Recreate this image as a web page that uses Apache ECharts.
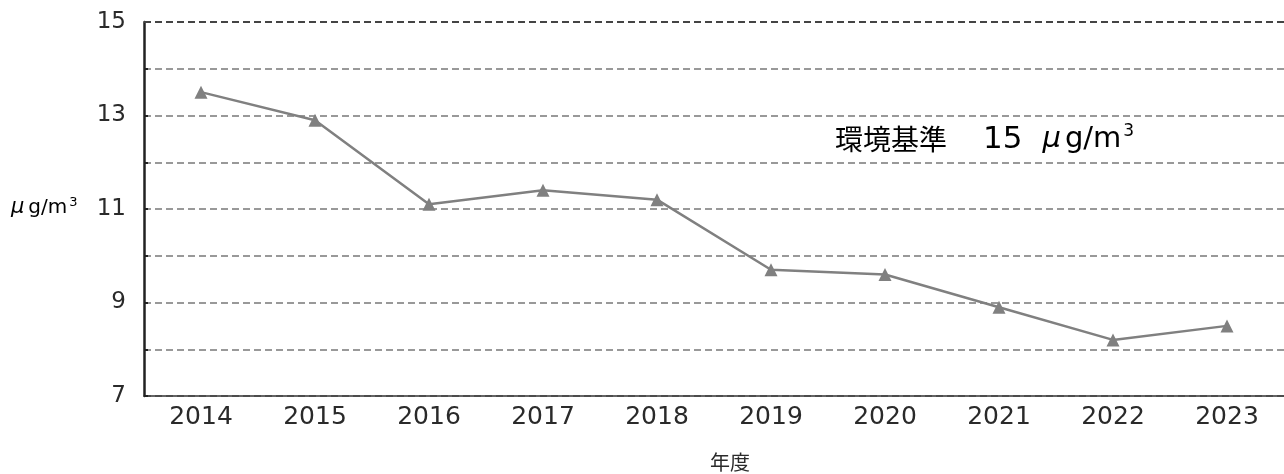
<!DOCTYPE html>
<html>
<head>
<meta charset="utf-8">
<script src="https://cdn.jsdelivr.net/npm/echarts@6/dist/echarts.min.js"></script>
<style>
    html, body { margin: 0; padding: 0; background: #ffffff; }
    #main { width: 1284px; height: 474px; }
</style>
</head>
<body>
<div id="main"></div>
<script>
var years = ['2014', '2015', '2016', '2017', '2018', '2019', '2020', '2021', '2022', '2023'];
var values = [13.5, 12.9, 11.1, 11.4, 11.2, 9.7, 9.6, 8.9, 8.2, 8.5];
var standard = 15;

var numFont = '"DejaVu Sans", sans-serif';
var jpFont = '"Noto Sans CJK JP", sans-serif';
var textColor = '#2a2a2a';

var chart = echarts.init(document.getElementById('main'));
var option = {
    backgroundColor: '#ffffff',
    animation: false,
    grid: {
        left: 144,
        top: 22,
        width: 1150,
        height: 374
    },
    xAxis: {
        type: 'category',
        data: years,
        axisLine: { lineStyle: { color: '#333', width: 1.5 } },
        axisTick: { inside: true, length: 5, lineStyle: { color: '#555' } },
        axisLabel: { fontFamily: numFont, fontSize: 25, color: textColor, margin: 9 }
    },
    yAxis: {
        type: 'value',
        min: 7,
        max: 15,
        interval: 1,
        axisLine: { show: true, lineStyle: { color: '#222', width: 2.5 } },
        axisTick: { show: true, inside: true, length: 4, lineStyle: { color: '#222', width: 2 } },
        axisLabel: {
            fontFamily: numFont,
            fontSize: 23,
            color: textColor,
            margin: 18,
            formatter: function (v) { return v % 2 === 1 ? String(v) : ''; }
        },
        splitLine: { lineStyle: { color: '#999', width: 2, type: [7, 4] } }
    },
    graphic: [{
        type: 'text',
        left: 11,
        top: 196,
        style: {
            text: '{m|μ}{u|g/m}{s|3}',
            rich: {
                m: { fontFamily: numFont, fontSize: 21, fontStyle: 'italic', color: textColor, padding: [0, 4, 0, 0] },
                u: { fontFamily: numFont, fontSize: 20, color: textColor },
                s: { fontFamily: numFont, fontSize: 13, color: textColor, verticalAlign: 'top', padding: [0, 0, 10, 2] }
            }
        }
    }, {
        type: 'text',
        left: 710,
        top: 452,
        style: { text: '年度', fontFamily: jpFont, fontSize: 20, fill: textColor }
    }, {
        type: 'text',
        left: 835,
        top: 123,
        style: {
            text: '{a|環境基準}{b|15}{m|μ}{c|g/m}{d|3}',
            rich: {
                a: { fontFamily: jpFont, fontSize: 28, color: textColor, padding: [0, 36, 0, 0] },
                b: { fontFamily: numFont, fontSize: 31, color: textColor, padding: [0, 20, 0, 0] },
                m: { fontFamily: numFont, fontSize: 29, fontStyle: 'italic', color: textColor, padding: [0, 4, 0, 0] },
                c: { fontFamily: numFont, fontSize: 29, color: textColor },
                d: { fontFamily: numFont, fontSize: 17, color: textColor, verticalAlign: 'top', padding: [0, 0, 16, 2] }
            }
        }
    }],
    series: [{
        type: 'line',
        data: values,
        symbol: 'triangle',
        symbolSize: 13,
        lineStyle: { color: '#808080', width: 2.5 },
        itemStyle: { color: '#808080' },
        markLine: {
            silent: true,
            symbol: 'none',
            label: { show: false },
            lineStyle: { color: '#444', width: 2, type: [7, 4] },
            data: [{ yAxis: standard }]
        }
    }]
};
chart.setOption(option);
</script>
</body>
</html>
